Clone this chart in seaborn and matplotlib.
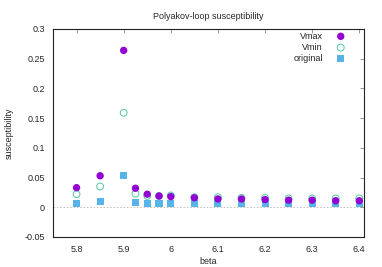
import matplotlib
matplotlib.use("Agg")
import matplotlib.pyplot as plt
import numpy as np
import pandas as pd
import seaborn as sns

beta = [5.8, 5.85, 5.9, 5.925, 5.95, 5.975, 6.0, 6.05, 6.1, 6.15, 6.2, 6.25, 6.3, 6.35, 6.4]
vmax = [0.033, 0.053, 0.264, 0.032, 0.022, 0.019, 0.018, 0.016, 0.014, 0.014, 0.013, 0.012, 0.012, 0.011, 0.011]
vmin = [0.022, 0.035, 0.159, 0.023, 0.019, 0.019, 0.020, 0.017, 0.017, 0.016, 0.016, 0.015, 0.015, 0.015, 0.015]
original = [0.007, 0.010, 0.054, 0.008, 0.007, 0.007, 0.007, 0.007, 0.007, 0.007, 0.007, 0.007, 0.007, 0.007, 0.007]

df = pd.DataFrame({"beta": beta, "Vmax": vmax, "Vmin": vmin, "original": original})

sns.set_theme(style="white")
plt.rcParams["font.family"] = ["Liberation Sans", "DejaVu Sans"]
plt.rcParams["font.size"] = 6.5

fig = plt.figure(figsize=(3.82, 2.67), dpi=100)
ax = fig.add_axes([53 / 382, 1 - 237 / 267, (364 - 53) / 382, (237 - 29) / 267])

ax.axhline(0, color="#bbbbbb", lw=0.6, ls=(0, (2, 2)), zorder=0)

sns.scatterplot(data=df, x="beta", y="Vmax", ax=ax, marker="o", s=28,
                color="#9400D3", edgecolor="none", label="Vmax", zorder=3)
sns.scatterplot(data=df, x="beta", y="Vmin", ax=ax, marker="o", s=24,
                facecolor="none", edgecolor="#4fc9a3", linewidth=0.7, label="Vmin", zorder=2)
sns.scatterplot(data=df, x="beta", y="original", ax=ax, marker="s", s=26,
                color="#56B4E9", edgecolor="none", label="original", zorder=1)

ax.set_xlim(5.75, 6.41)
ax.set_ylim(-0.05, 0.3)
ax.set_xticks([5.8, 5.9, 6.0, 6.1, 6.2, 6.3, 6.4])
ax.set_xticklabels(["5.8", "5.9", "6", "6.1", "6.2", "6.3", "6.4"])
ax.set_yticks([-0.05, 0, 0.05, 0.1, 0.15, 0.2, 0.25, 0.3])
ax.set_yticklabels(["-0.05", "0", "0.05", "0.1", "0.15", "0.2", "0.25", "0.3"])
ax.tick_params(direction="in", length=3, width=0.6, color="#888888", labelsize=6.5,
               top=True, right=True, pad=6)
for sp in ax.spines.values():
    sp.set_color("#222222")
    sp.set_linewidth(0.8)

ax.set_xlabel("beta", fontsize=6.5, labelpad=2)
ax.set_ylabel("susceptibility", fontsize=6.5, labelpad=7.5)
ax.set_title("Polyakov-loop susceptibility", fontsize=6.5, pad=7.5)

leg = ax.legend(loc="upper right", bbox_to_anchor=(0.963, 1.0), frameon=False,
                fontsize=6.5, markerfirst=False, handletextpad=1.0,
                labelspacing=0.25, borderaxespad=0.0, borderpad=0.3)

fig.savefig("out.png", dpi=100)
